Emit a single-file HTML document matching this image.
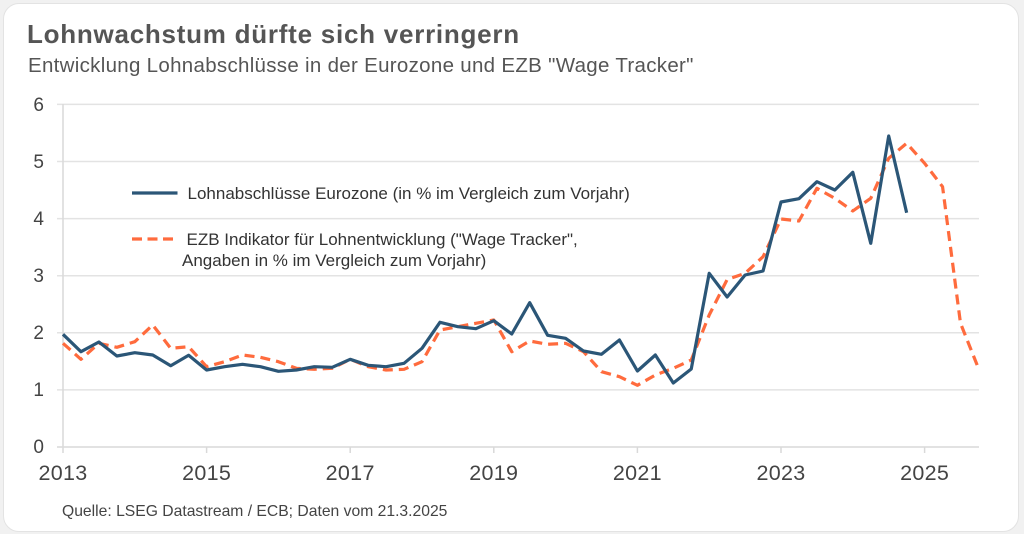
<!DOCTYPE html>
<html><head><meta charset="utf-8">
<style>
html,body{margin:0;padding:0;background:#f1f1f1;}
body{width:1024px;height:534px;overflow:hidden;position:relative;}
.card{position:absolute;left:3px;top:3px;width:1014px;height:527px;background:#fff;border:1px solid #e3e3e3;border-radius:16px;}
svg{position:absolute;left:0;top:0;}
text{font-family:"Liberation Sans",Arial,sans-serif;}
</style></head><body>
<div class="card"></div>
<svg width="1024" height="534" viewBox="0 0 1024 534" xmlns="http://www.w3.org/2000/svg">
<text x="27" y="43" font-size="26" font-weight="bold" fill="#555" letter-spacing="0.75">Lohnwachstum dürfte sich verringern</text>
<text x="28" y="72" font-size="20.5" fill="#555" letter-spacing="0.3">Entwicklung Lohnabschlüsse in der Eurozone und EZB "Wage Tracker"</text>

<g stroke="#e3e3e3" stroke-width="1.5">
<line x1="57" y1="104.4" x2="979" y2="104.4"/>
<line x1="57" y1="161.5" x2="979" y2="161.5"/>
<line x1="57" y1="218.6" x2="979" y2="218.6"/>
<line x1="57" y1="275.7" x2="979" y2="275.7"/>
<line x1="57" y1="332.8" x2="979" y2="332.8"/>
<line x1="57" y1="389.9" x2="979" y2="389.9"/>
</g>
<g stroke="#d9d9d9" stroke-width="1.5">
<line x1="57" y1="447" x2="979" y2="447"/>
<line x1="63" y1="104" x2="63" y2="453"/>
<line x1="206.6" y1="447" x2="206.6" y2="453"/>
<line x1="350.2" y1="447" x2="350.2" y2="453"/>
<line x1="493.8" y1="447" x2="493.8" y2="453"/>
<line x1="637.4" y1="447" x2="637.4" y2="453"/>
<line x1="781" y1="447" x2="781" y2="453"/>
<line x1="924.6" y1="447" x2="924.6" y2="453"/>
</g>
<g font-size="19" fill="#444" text-anchor="end">
<text x="44" y="111">6</text>
<text x="44" y="168">5</text>
<text x="44" y="225">4</text>
<text x="44" y="282">3</text>
<text x="44" y="339">2</text>
<text x="44" y="396">1</text>
<text x="44" y="453">0</text>
</g>
<g font-size="21.5" fill="#444" text-anchor="middle" letter-spacing="0.3">
<text x="63" y="480">2013</text>
<text x="206.6" y="480">2015</text>
<text x="350.2" y="480">2017</text>
<text x="493.8" y="480">2019</text>
<text x="637.4" y="480">2021</text>
<text x="781" y="480">2023</text>
<text x="924.6" y="480">2025</text>
</g>

<polyline fill="none" stroke="#ff6b3d" stroke-width="3.2" stroke-dasharray="10,6" stroke-linejoin="round" points="63,343.3 80.95,359.3 98.9,343.3 116.85,347.3 134.8,341.7 152.75,325 170.7,348.3 188.65,346.7 206.6,366.7 224.55,361.7 242.5,355 260.45,357.3 278.4,361.7 296.35,368.3 314.3,369.3 332.25,368.3 350.2,359.3 368.15,366.7 386.1,370 404.05,369.3 422,361.7 439.95,330 457.9,326.7 475.85,323.3 493.8,320 511.75,351.7 529.7,341 547.65,344.3 565.6,343.3 583.55,351.7 601.5,371.7 619.45,376.7 637.4,385.3 655.35,375 673.3,368.3 691.25,360 709.2,315 727.15,279.5 745.1,273.3 763.05,256.7 781,219 798.95,221 816.9,188.3 834.85,198.3 852.8,211 870.75,198.3 888.7,158.3 906.65,143.3 924.6,163.3 942.55,186.7 960.5,323.3 978.45,368.3"/>
<polyline fill="none" stroke="#2b5677" stroke-width="3.2" stroke-linejoin="round" points="63,334.3 80.95,351.7 98.9,342 116.85,356 134.8,352.7 152.75,355 170.7,365.7 188.65,355.3 206.6,370 224.55,366.7 242.5,364.3 260.45,366.7 278.4,371.3 296.35,370 314.3,366.7 332.25,367.3 350.2,359.3 368.15,365.3 386.1,366.7 404.05,363.3 422,348.3 439.95,322.3 457.9,326.7 475.85,328.7 493.8,320.7 511.75,334 529.7,302.7 547.65,335.3 565.6,338.3 583.55,351 601.5,354.3 619.45,340 637.4,371 655.35,355 673.3,383 691.25,369 709.2,273.3 727.15,297 745.1,275 763.05,271 781,202 798.95,198.7 816.9,181.7 834.85,190 852.8,172.3 870.75,243.3 888.7,136 906.65,212.7"/>

<line x1="132" y1="193" x2="177.5" y2="193" stroke="#2b5677" stroke-width="3.2"/>
<line x1="132" y1="239" x2="175" y2="239" stroke="#ff6b3d" stroke-width="3.2" stroke-dasharray="10,5.5"/>
<g font-size="17" fill="#333">
<text x="187.5" y="199">Lohnabschlüsse Eurozone (in % im Vergleich zum Vorjahr)</text>
<text x="186.5" y="245">EZB Indikator für Lohnentwicklung ("Wage Tracker",</text>
<text x="182" y="266">Angaben in % im Vergleich zum Vorjahr)</text>
</g>
<text x="62" y="516" font-size="15.7" fill="#444">Quelle: LSEG Datastream / ECB; Daten vom 21.3.2025</text>
</svg>
</body></html>
